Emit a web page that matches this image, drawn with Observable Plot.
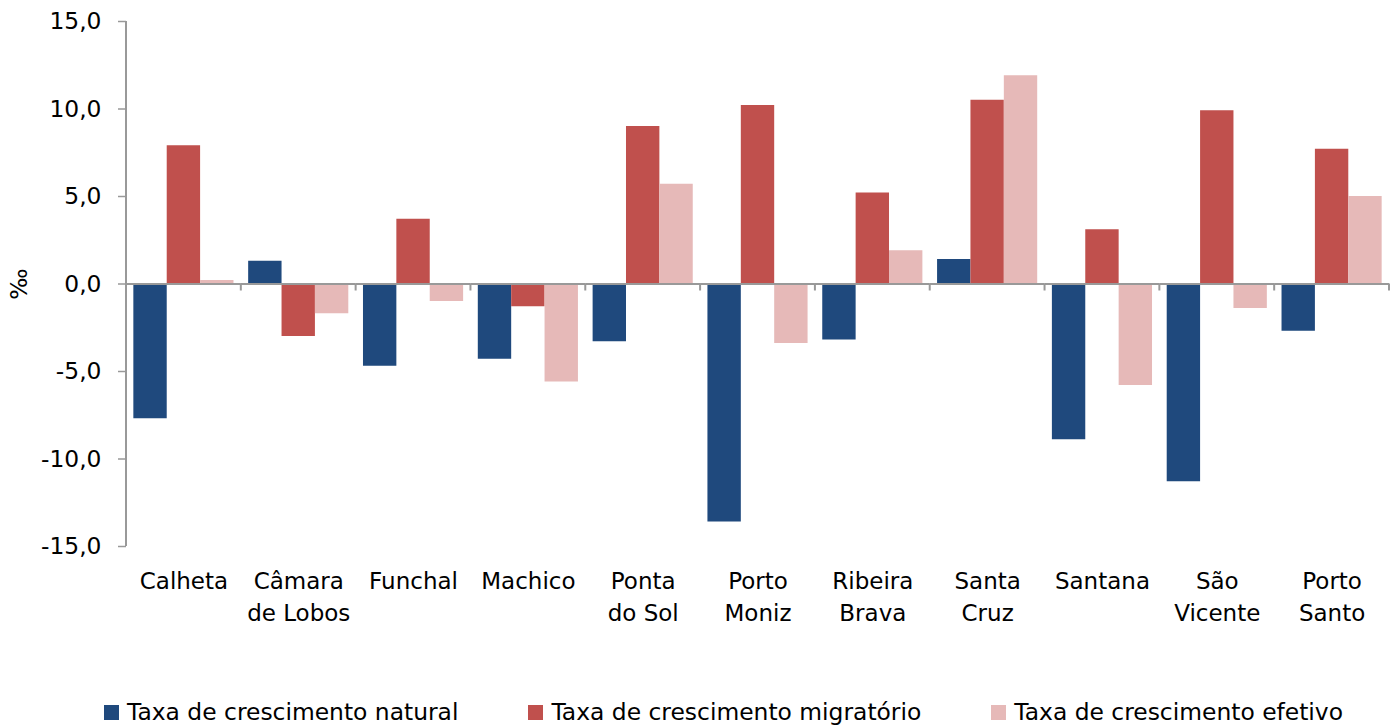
<!DOCTYPE html>
<html>
<head>
<meta charset="utf-8">
<script src="https://cdn.jsdelivr.net/npm/d3@7"></script>
<script src="https://cdn.jsdelivr.net/npm/@observablehq/plot@0.6"></script>
<style>
  html, body { margin: 0; padding: 0; background: #fff; }
  body { width: 1398px; height: 727px; overflow: hidden; font-family: "DejaVu Sans", sans-serif; }
  #legend { display: flex; align-items: center; padding-left: 104px; margin-top: 58px; height: 28px; font-size: 23.4px; color: #000; }
  #legend .item { display: flex; align-items: center; margin-right: 70px; white-space: nowrap; }
  #legend .sw { width: 15px; height: 15px; margin-right: 8px; }
</style>
</head>
<body>
<div id="chart"></div>
<div id="legend"></div>
<script>
const categories = ["Calheta", "Câmara de Lobos", "Funchal", "Machico", "Ponta do Sol", "Porto Moniz", "Ribeira Brava", "Santa Cruz", "Santana", "São Vicente", "Porto Santo"];
const tickLabels = ["Calheta", "Câmara\nde Lobos", "Funchal", "Machico", "Ponta\ndo Sol", "Porto\nMoniz", "Ribeira\nBrava", "Santa\nCruz", "Santana", "São\nVicente", "Porto\nSanto"];
const series = ["Taxa de crescimento natural", "Taxa de crescimento migratório", "Taxa de crescimento efetivo"];
const natural    = [-7.7, 1.3, -4.7, -4.3, -3.3, -13.6, -3.2, 1.4, -8.9, -11.3, -2.7];
const migratorio = [7.9, -3.0, 3.7, -1.3, 9.0, 10.2, 5.2, 10.5, 3.1, 9.9, 7.7];
const efetivo    = [0.2, -1.7, -1.0, -5.6, 5.7, -3.4, 1.9, 11.9, -5.8, -1.4, 5.0];
const yTicks = [-15, -10, -5, 0, 5, 10, 15];
const colors = ["#1F497D", "#C0504D", "#E6B9B8"];
const yLabel = "‰";

const seriesValues = [natural, migratorio, efetivo];
const data = [];
categories.forEach((c, i) => {
  series.forEach((s, j) => data.push({cat: c, series: s, value: seriesValues[j][i]}));
});
const labelOf = new Map(categories.map((c, i) => [c, tickLabels[i]]));
const fmt = d => d.toFixed(1).replace(".", ",");
const grey = "#999999";

const plot = Plot.plot({
  width: 1398,
  height: 640,
  marginLeft: 126,
  marginRight: 9,
  marginTop: 21,
  marginBottom: 94,
  style: {fontFamily: "DejaVu Sans, sans-serif", fontSize: "23px", color: "#000", background: "#fff"},
  fx: {domain: categories, padding: 0, round: false},
  x: {domain: series, paddingInner: 0, paddingOuter: 0.22, round: false, axis: null},
  y: {domain: [-15, 15]},
  color: {domain: series, range: colors},
  marks: [
    Plot.barY(data, {fx: "cat", x: "series", y: "value", fill: "series"}),
    Plot.ruleY([0], {stroke: grey, strokeWidth: 2}),
    Plot.axisY({ticks: yTicks, tickFormat: fmt, tickSize: 8, tickPadding: 17, stroke: grey, strokeWidth: 1.5, fontSize: 23.4,
      label: yLabel, labelAnchor: "center", labelArrow: "none", labelOffset: 116}),
    Plot.axisFx({anchor: "bottom", tickSize: 0, tickPadding: 20, tickFormat: d => labelOf.get(d), fontSize: 23, lineHeight: 1.38, label: null})
  ]
});
document.getElementById("chart").appendChild(plot);

// Axis line and category boundary ticks, positioned with the plot's own scales
const fx = plot.scale("fx");
const y = plot.scale("y");
const svg = d3.select(plot);
const y0 = y.apply(0);
const x0 = fx.apply(categories[0]);
svg.append("line")
  .attr("x1", x0).attr("x2", x0)
  .attr("y1", y.apply(15)).attr("y2", y.apply(-15))
  .attr("stroke", grey).attr("stroke-width", 2);
const bounds = categories.map(c => fx.apply(c)).concat([fx.apply(categories[categories.length - 1]) + fx.bandwidth]);
bounds.forEach((bx, i) => {
  if (i === 0) return;
  svg.append("line")
    .attr("x1", bx).attr("x2", bx)
    .attr("y1", y0).attr("y2", y0 + 7)
    .attr("stroke", grey).attr("stroke-width", 2);
});

// Legend built from the series and colour arrays
const legend = d3.select("#legend");
series.forEach((s, j) => {
  const it = legend.append("div").attr("class", "item");
  it.append("div").attr("class", "sw").style("background", colors[j]);
  it.append("span").text(s);
});
</script>
</body>
</html>
